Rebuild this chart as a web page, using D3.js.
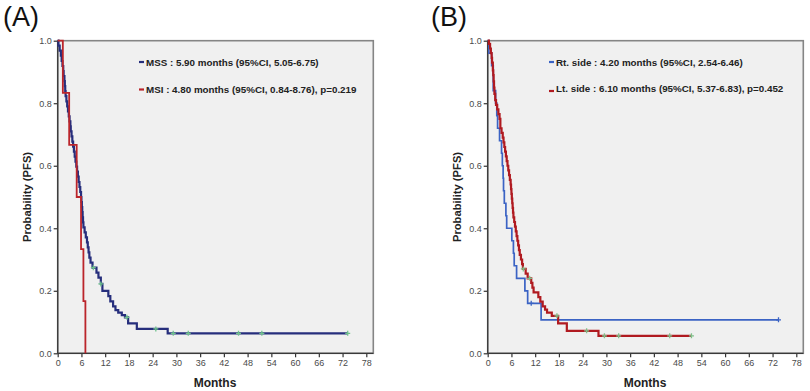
<!DOCTYPE html>
<html><head><meta charset="utf-8">
<script src="https://cdn.jsdelivr.net/npm/d3@7"></script>
<style>
html,body{margin:0;padding:0;background:#fff;}
svg{display:block;font-family:"Liberation Sans",Arial,sans-serif;}
</style></head>
<body>
<svg id="chart" width="810" height="391"></svg>
<script>
// ---------- data ----------
const monthTicks = [0,6,12,18,24,30,36,42,48,54,60,66,72,78];
const probTicks = [0,0.2,0.4,0.6,0.8,1.0];

// Panel A - MSS
const mssTimes = [0.2,0.5,0.8,1.0,1.2,1.4,1.5,1.7,1.8,1.9,2.0,2.2,2.4,2.6,2.8,3.0,3.2,3.3,3.5,3.7,3.9,4.1,4.3,4.5,4.7,4.9,5.1,5.3,5.5,5.7,5.9,6.0,6.1,6.2,6.3,6.4,6.5,6.8,7.1,7.4,7.6,7.8,8.0,8.3,8.8,9.8,10.3,10.9,11.3,12.8,13.3,14.0,14.6,15.3,16.2,17.0,17.8,20.0,27.8];
const mssSurv  = [0.984,0.968,0.952,0.935,0.919,0.903,0.887,0.871,0.855,0.839,0.823,0.806,0.790,0.774,0.758,0.742,0.726,0.710,0.694,0.677,0.661,0.645,0.629,0.613,0.597,0.581,0.565,0.548,0.532,0.516,0.500,0.484,0.468,0.452,0.435,0.419,0.403,0.387,0.371,0.355,0.339,0.323,0.306,0.290,0.274,0.258,0.242,0.222,0.200,0.183,0.166,0.150,0.138,0.130,0.122,0.115,0.096,0.078,0.064];
const mssCensor = [9.0,10.9,17.5,24.8,29.2,33.0,45.7,51.6,73.3];

// Panel A - MSI
const msiTimes = [1.3,2.9,4.8,5.9,6.5,7.0];
const msiSurv  = [0.833,0.667,0.500,0.333,0.167,0.000];
const msiCensor = [];

// Panel B - Rt. side
const rtTimes = [0.3,1.0,1.4,2.0,2.3,2.5,3.0,3.5,3.7,3.9,4.0,4.2,4.6,4.8,6.1,6.5,6.7,7.3,9.4,10.1,13.5];
const rtSurv  = [0.96,0.92,0.84,0.80,0.76,0.72,0.68,0.64,0.60,0.56,0.52,0.48,0.44,0.40,0.36,0.32,0.28,0.24,0.20,0.16,0.107];
const rtCensor = [11.0,73.5];

// Panel B - Lt. side
const ltTimes = [0.3,0.6,0.8,1.0,1.1,1.3,1.4,1.5,1.6,1.7,1.9,2.1,2.4,2.7,3.0,3.2,3.5,3.8,4.0,4.2,4.4,4.6,4.8,5.0,5.2,5.4,5.6,5.8,5.9,6.0,6.1,6.2,6.3,6.4,6.5,6.7,6.9,7.1,7.3,7.5,7.7,7.9,8.1,8.4,8.7,8.9,9.6,10.1,11.0,11.3,11.6,12.8,13.3,13.9,14.5,15.0,16.2,17.8,20.0,28.0];
const ltSurv  = [0.99,0.975,0.96,0.945,0.93,0.905,0.89,0.87,0.85,0.83,0.81,0.795,0.78,0.765,0.75,0.72,0.705,0.69,0.675,0.66,0.645,0.63,0.615,0.60,0.585,0.57,0.555,0.54,0.525,0.51,0.495,0.48,0.465,0.45,0.435,0.42,0.405,0.39,0.375,0.36,0.345,0.33,0.315,0.30,0.285,0.27,0.255,0.24,0.225,0.21,0.195,0.18,0.165,0.15,0.14,0.13,0.12,0.096,0.072,0.056];
const ltCensor = [9.0,10.6,17.5,25.0,29.5,33.1,46.0,51.5];

const legendA = ["MSS : 5.90 months (95%CI, 5.05-6.75)", "MSI : 4.80 months (95%CI, 0.84-8.76), p=0.219"];
const legendB = ["Rt. side : 4.20 months (95%CI, 2.54-6.46)", "Lt. side : 6.10 months (95%CI, 5.37-6.83), p=0.452"];

// ---------- drawing ----------
const svg = d3.select("#chart");

function survAt(times, surv, t){
  let s = 1;
  for (let i=0;i<times.length;i++){ if (times[i] <= t) s = surv[i]; }
  return s;
}

function drawPanel(p){
  const g = svg.append("g");
  const x = d3.scaleLinear().domain([0,78]).range([p.left, p.left + 308.6]);
  const y = d3.scaleLinear().domain([0,1]).range([p.bottom, p.top]);
  const right = p.left + 315.6;

  g.append("rect").attr("x",p.left).attr("y",p.top)
    .attr("width",right-p.left).attr("height",p.bottom-p.top)
    .attr("fill","#f0f0f0").attr("stroke","#858585").attr("stroke-width",1.6);

  // axes
  const xAxis = d3.axisBottom(x).tickValues(monthTicks).tickSize(4).tickPadding(2).tickFormat(d3.format("d"));
  const yAxis = d3.axisLeft(y).tickValues(probTicks).tickSize(4).tickPadding(2).tickFormat(d3.format(".1f"));
  const xa = g.append("g").attr("transform",`translate(0,${p.bottom})`).call(xAxis);
  const ya = g.append("g").attr("transform",`translate(${p.left},0)`).call(yAxis);
  [xa,ya].forEach(a=>{
    a.select(".domain").remove();
    a.selectAll(".tick line").attr("stroke","#333").attr("stroke-width",1.2);
    a.selectAll(".tick text").attr("fill","#4a4a4a").style("font-size","9px");
  });
  g.append("line").attr("x1",p.left).attr("x2",p.left).attr("y1",p.top).attr("y2",p.bottom)
    .attr("stroke","#3a3a3a").attr("stroke-width",1.3);
  g.append("line").attr("x1",p.left).attr("x2",right).attr("y1",p.bottom).attr("y2",p.bottom)
    .attr("stroke","#3a3a3a").attr("stroke-width",1.3);

  // curves
  const line = d3.line().x(d=>x(d[0])).y(d=>y(d[1])).curve(d3.curveStepAfter);
  p.series.forEach(s=>{
    const pts = [[0,1]];
    s.times.forEach((t,i)=>pts.push([t, s.surv[i]]));
    const lastT = Math.max(s.times[s.times.length-1], s.censor.length ? d3.max(s.censor) : 0);
    pts.push([lastT, s.surv[s.surv.length-1]]);
    g.append("path").datum(pts).attr("d",line).attr("fill","none")
      .attr("stroke",s.color).attr("stroke-width",s.width).attr("stroke-linejoin","miter");
    s.censor.forEach(t=>{
      const cx = x(t), cy = y(survAt(s.times,s.surv,t));
      g.append("path").attr("d",`M${cx-2.5},${cy}H${cx+2.5}M${cx},${cy-2.5}V${cy+2.5}`)
        .attr("stroke",s.censorColor).attr("stroke-width",1.3);
    });
  });

  // legend
  p.series.forEach((s,i)=>{
    const ly = p.legendY[i];
    g.append("line").attr("x1",p.legendX-7).attr("x2",p.legendX-2)
      .attr("y1",ly+s.dashOff).attr("y2",ly+s.dashOff)
      .attr("stroke",s.color).attr("stroke-width",2.2);
    g.append("text").attr("x",p.legendX).attr("y",ly+3.5)
      .attr("fill","#222").style("font-size","9.8px").style("font-weight","bold")
      .text(p.legend[i]);
  });

  // titles
  g.append("text").attr("x",(p.left+x(78))/2 + 3).attr("y",386.5)
    .attr("text-anchor","middle").style("font-size","12px").style("font-weight","bold").attr("fill","#222")
    .text("Months");
  g.append("text").attr("transform",`translate(${p.ylabX},${(p.top+p.bottom)/2}) rotate(-90)`)
    .attr("text-anchor","middle").style("font-size","11.2px").style("font-weight","bold").attr("fill","#222")
    .text("Probability (PFS)");
  g.append("text").attr("x",p.tagX).attr("y",26)
    .style("font-size","27px").attr("fill","#111").text(p.tag);
}

drawPanel({
  left:57.7, top:40.7, bottom:353.3, ylabX:30.8, tagX:3, tag:"(A)",
  legendX:146, legendY:[62,89.5], legend:legendA,
  series:[
    {times:mssTimes, surv:mssSurv, censor:mssCensor, color:"#262e7c", width:2.2, censorColor:"#6fc38c", dashOff:0},
    {times:msiTimes, surv:msiSurv, censor:msiCensor, color:"#bb252b", width:1.8, censorColor:"#6fc38c", dashOff:0}
  ]
});
drawPanel({
  left:487.7, top:40.7, bottom:353.3, ylabX:460.8, tagX:431, tag:"(B)",
  legendX:556, legendY:[62,88.5], legend:legendB,
  series:[
    {times:rtTimes, surv:rtSurv, censor:rtCensor, color:"#3b63c4", width:1.7, censorColor:"#3b63c4", dashOff:0},
    {times:ltTimes, surv:ltSurv, censor:ltCensor, color:"#b01a20", width:2.2, censorColor:"#7fc08a", dashOff:2.5}
  ]
});
</script>
</body></html>
